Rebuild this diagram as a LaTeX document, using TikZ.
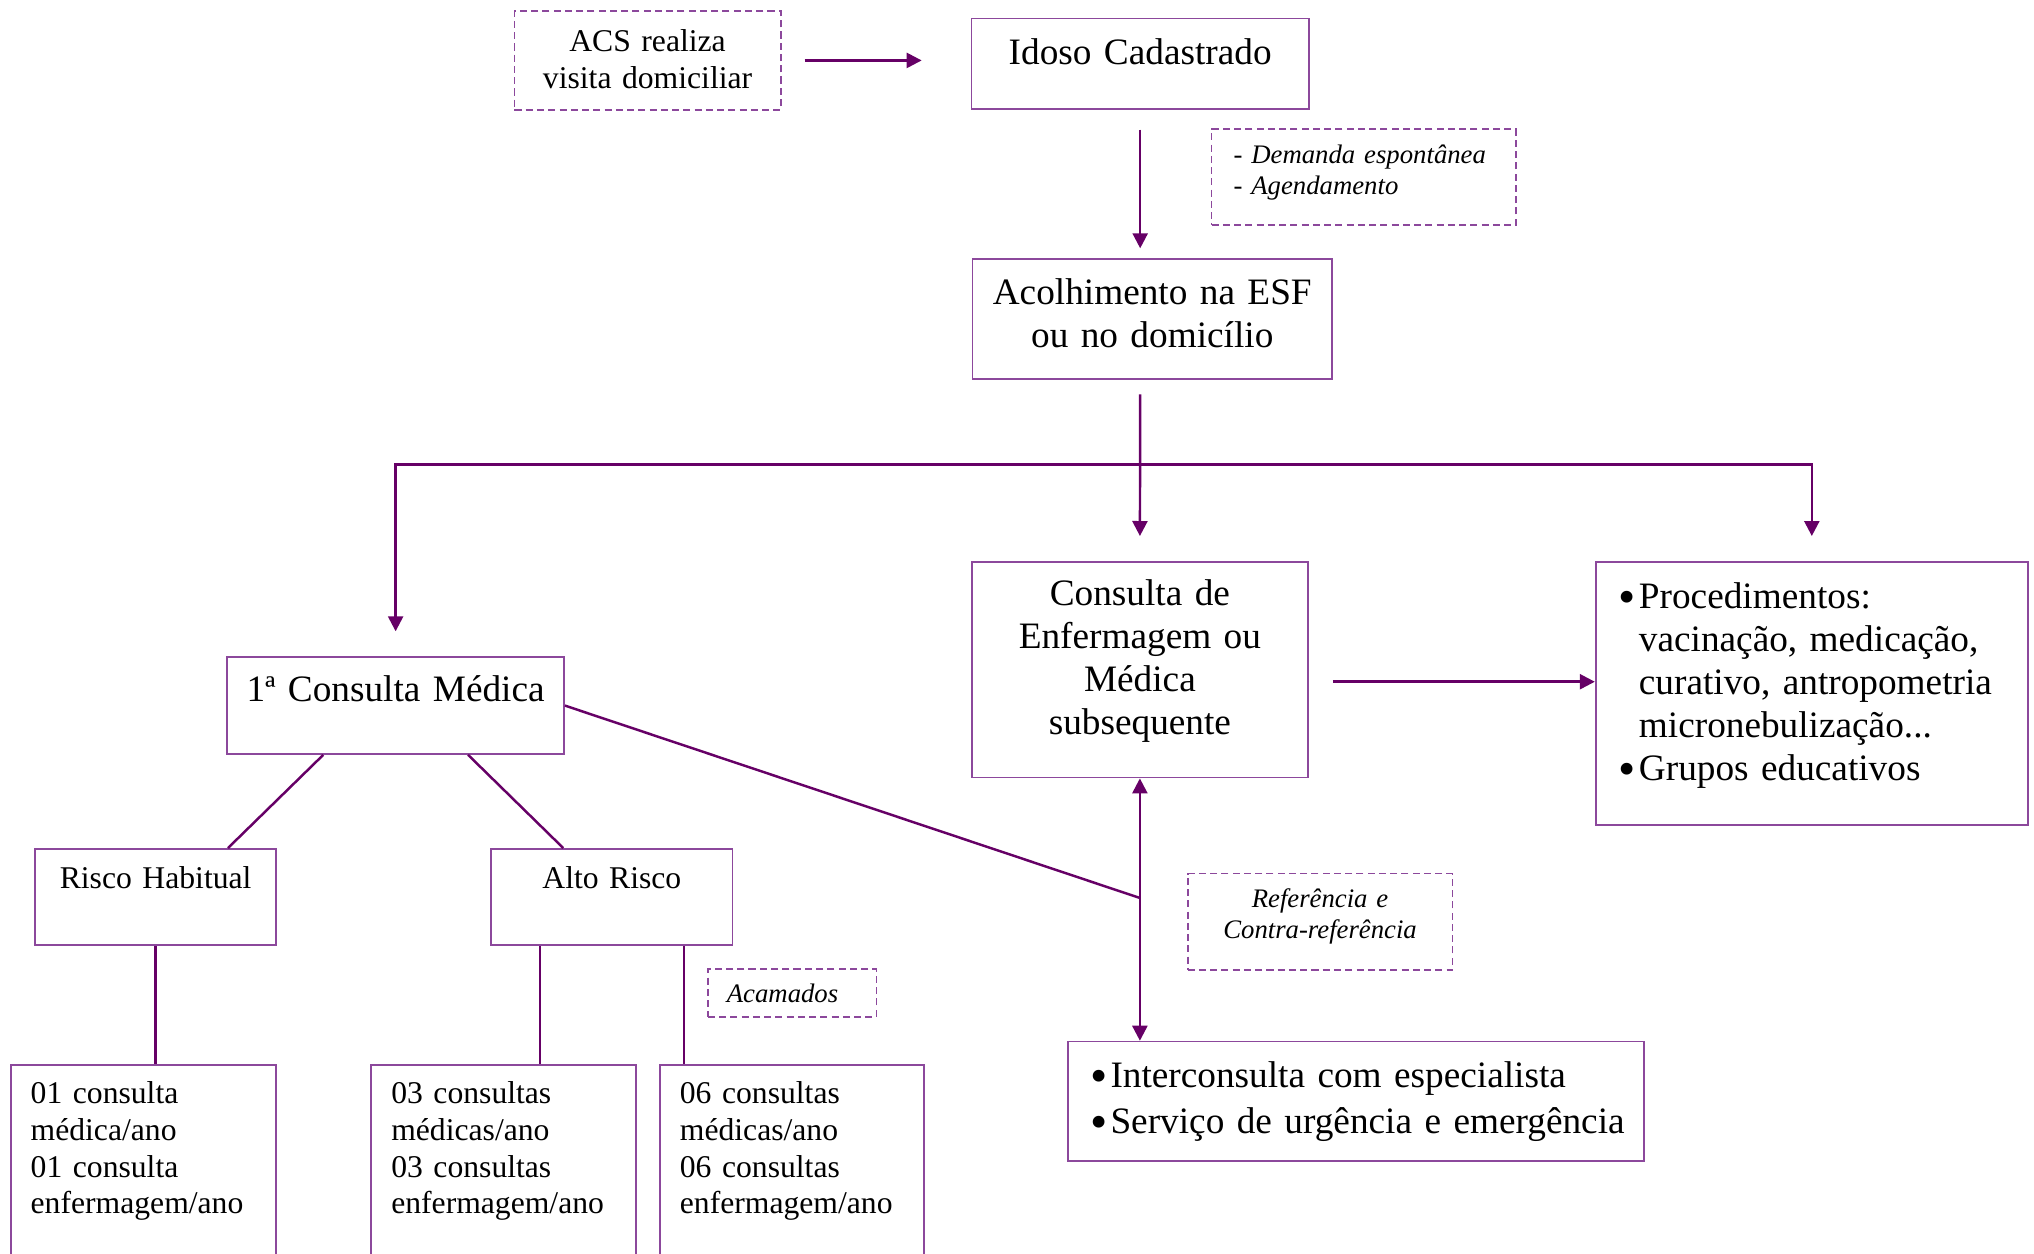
\documentclass[tikz,border=0pt]{standalone}
\usepackage{fontspec}
\setmainfont{Liberation Serif}[WordSpace=0.85]
\usetikzlibrary{arrows.meta}
\definecolor{borda}{RGB}{140,72,156}
\definecolor{linha}{RGB}{102,0,102}
\newcommand{\grande}{\fontsize{10.6}{12.2}\selectfont}
\newcommand{\medio}{\fontsize{9}{10.4}\selectfont}
\newcommand{\pequeno}{\fontsize{7.6}{8.8}\selectfont}
\newcommand{\marca}{\makebox[0.2cm][l]{\raisebox{-1.4pt}{\fontsize{14}{12}\selectfont\textbullet}}}

\begin{document}
\begin{tikzpicture}[x=0.01cm,y=-0.01cm,
    caixa/.style={draw=borda,line width=0.5pt,inner sep=0pt,anchor=north west,align=center,font=\grande},
    tracejada/.style={caixa,dash pattern=on 2pt off 1.2pt,font=\pequeno\itshape},
    seta/.style={draw=linha,line width=0.7pt},
    >={Triangle[length=0.15cm,width=0.15cm]}]
  \useasboundingbox (0,0) rectangle (2034,1253);
  % caixas
  \node[tracejada,font=\medio,text width=2.66cm,text height=0.41cm,text depth=0.58cm](acs)at(513.6,10){ACS realiza\\visita domiciliar};
  \node[caixa,text width=3.37cm,text height=0.463cm,text depth=0.437cm](idoso)at(970.7,17.7){Idoso Cadastrado};
  \node[tracejada,align=left,inner xsep=0.22cm,text width=2.603cm,text height=0.344cm,text depth=0.613cm](demanda)at(1210.7,128.3){- Demanda espontânea\\- Agendamento};
  \node[caixa,text width=3.595cm,text height=0.451cm,text depth=0.75cm](acolh)at(971.5,258.3){Acolhimento na ESF\\ou no domicílio};
  \node[caixa,text width=3.362cm,text height=0.438cm,text depth=1.717cm](enf)at(970.8,561){Consulta de\\Enfermagem ou\\Médica\\subsequente};
  \node[caixa,align=left,inner xsep=0.232cm,text width=3.856cm,text height=0.466cm,text depth=2.164cm](proc)at(1594.8,561){\marca Procedimentos:\\\hspace*{0.2cm}vacinação, medicação,\\\hspace*{0.2cm}\mbox{curativo, antropometria}\\\hspace*{0.2cm}micronebulização...\\\marca Grupos educativos};
  \node[caixa,text width=3.367cm,text height=0.447cm,text depth=0.52cm](cons1)at(226.3,656.3){1ª Consulta Médica};
  \node[caixa,font=\medio,text width=2.406cm,text height=0.395cm,text depth=0.567cm](riscoh)at(34.4,848){Risco Habitual};
  \node[caixa,font=\medio,text width=2.412cm,text height=0.395cm,text depth=0.567cm](altor)at(490.3,848){Alto Risco};
  \node[tracejada,align=left,inner xsep=0.19cm,text width=1.305cm,text height=0.34cm,text depth=0.14cm](acam)at(707,968){Acamados};
  \node[tracejada,text width=2.646cm,text height=0.34cm,text depth=0.623cm](refer)at(1186.8,872.7){Referência e\\Contra-referência};
  \node[caixa,align=left,inner xsep=0.228cm,text width=5.304cm,text height=0.463cm,text depth=0.727cm](inter)at(1066.8,1040.7){\marca \mbox{Interconsulta com especialista}\\[0.7pt]\marca \mbox{Serviço de urgência e emergência}};
  \node[caixa,font=\medio,align=left,inner xsep=0.2cm,text width=2.248cm,text height=0.387cm,text depth=2cm](b1)at(9.8,1064.3){01 consulta\\médica/ano\\01 consulta\\enfermagem/ano};
  \node[caixa,font=\medio,align=left,inner xsep=0.2cm,text width=2.244cm,text height=0.387cm,text depth=2cm](b2)at(370.4,1064.3){03 consultas\\médicas/ano\\03 consultas\\enfermagem/ano};
  \node[caixa,font=\medio,align=left,inner xsep=0.2cm,text width=2.238cm,text height=0.387cm,text depth=2cm](b3)at(659,1064.3){06 consultas\\médicas/ano\\06 consultas\\enfermagem/ano};
  % setas
  \draw[seta,->,shorten <=0.23cm,shorten >=0.49cm](acs.east)--(acs.east-|idoso.west);
  \draw[seta,->,shorten <=0.2cm,shorten >=0.1cm](idoso.south)--(idoso.south|-acolh.north);
  \draw[seta,->,shorten <=0.14cm,shorten >=0.25cm](idoso.south|-acolh.south)--(enf.north);
  \coordinate(ramo)at(1139,464.3);
  \draw[seta,->,shorten >=0.25cm](ramo)-|(cons1.north);
  \draw[seta,->,shorten >=0.25cm](ramo)-|(proc.north);
  \coordinate(e1)at([yshift=-0.12cm]enf.east);
  \draw[seta,->,shorten <=0.24cm](e1)--(e1-|proc.west);
  \draw[seta]([xshift=-0.723cm]cons1.south)--([xshift=0.723cm]riscoh.north);
  \draw[seta]([xshift=0.724cm]cons1.south)--([xshift=-0.486cm]altor.north);
  \coordinate(juncao)at([yshift=-1.195cm]enf.south);
  \draw[seta](cons1.east)--(juncao);
  \draw[seta,<->](enf.south)--(enf.south|-inter.north);
  \coordinate(a1)at([xshift=-0.72cm]altor.south);
  \coordinate(a2)at([xshift=0.72cm]altor.south);
  \foreach \de/\para in {riscoh.south/b1,a1/b2,a2/b3}
    \draw[seta](\de)--(\de|-\para.north);
\end{tikzpicture}
\end{document}
